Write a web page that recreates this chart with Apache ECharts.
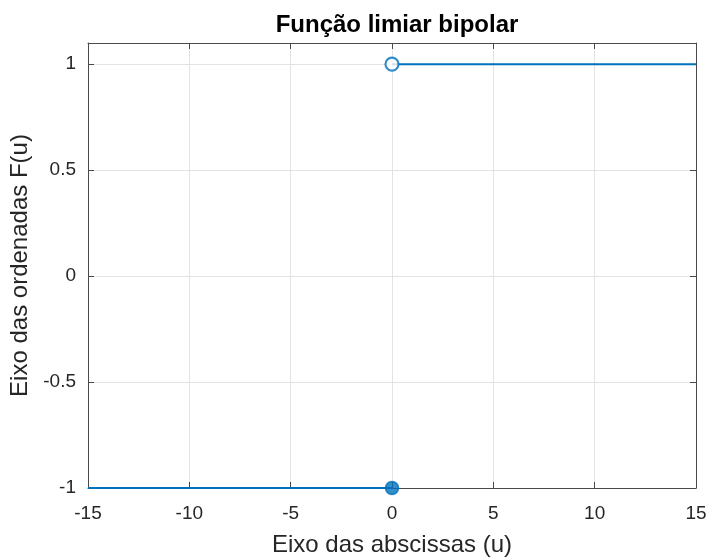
<!DOCTYPE html>
<html>
<head>
<meta charset="utf-8">
<script src="https://cdn.jsdelivr.net/npm/echarts@6/dist/echarts.min.js"></script>
<style>
  html, body { margin: 0; padding: 0; background: #fff; }
  #chart { width: 709px; height: 558px; }
</style>
</head>
<body>
<div id="chart"></div>
<script>
// Bipolar threshold (sign) function: F(u) = -1 for u <= 0, +1 for u > 0
const leftSegX = [-15, 0];
const leftSegY = [-1, -1];
const rightSegX = [0, 15];
const rightSegY = [1, 1];
const closedPoint = [0, -1];   // value taken at u = 0
const openPoint = [0, 1];      // limit from the right, not attained

const xTicks = { min: -15, max: 15, step: 5 };
const yTicks = { min: -1, max: 1.1, step: 0.5 };

const titleText = 'Função limiar bipolar';
const xLabel = 'Eixo das abscissas (u)';
const yLabel = 'Eixo das ordenadas F(u)';

const blue = '#0072BD';
const axisGray = '#4a4a4a';
const textGray = '#262626';
const font = 'Liberation Sans, Arial, Helvetica, sans-serif';

function zip(xs, ys) { return xs.map((x, i) => [x, ys[i]]); }

function fmtY(v) {
  const r = Math.round(v / yTicks.step) * yTicks.step;
  if (Math.abs(r - v) > 1e-9) return '';
  return String(Math.round(v * 10) / 10);
}

const axisCommon = {
  axisLine: { show: true, onZero: false, lineStyle: { color: axisGray, width: 1 } },
  axisTick: { show: true, inside: true, length: 6, lineStyle: { color: axisGray } },
};

const chart = echarts.init(document.getElementById('chart'), null, { renderer: 'canvas' });
chart.setOption({
  animation: false,
  backgroundColor: '#fff',
  title: {
    text: titleText,
    left: 392, top: 8, textAlign: 'center',
    textStyle: { fontFamily: font, fontSize: 24, fontWeight: 'bold', color: '#000' }
  },
  grid: {
    left: 88, right: 13, top: 43, bottom: 70, show: false,
    containLabel: false, outerBoundsMode: 'none'
  },
  xAxis: [{
    type: 'value', min: xTicks.min, max: xTicks.max, interval: xTicks.step,
    position: 'bottom',
    name: xLabel, nameLocation: 'middle', nameGap: 45,
    nameTextStyle: { fontFamily: font, fontSize: 24, color: textGray },
    ...axisCommon,
    axisLabel: { fontFamily: font, fontSize: 19, color: textGray, margin: 16 },
    splitLine: { show: true, lineStyle: { color: '#e3e3e3', width: 1 } }
  }, {
    type: 'value', min: xTicks.min, max: xTicks.max, interval: xTicks.step,
    position: 'top',
    ...axisCommon,
    axisLabel: { show: false },
    splitLine: { show: false }
  }],
  yAxis: [{
    type: 'value', min: yTicks.min, max: yTicks.max, interval: yTicks.step,
    position: 'left',
    name: yLabel, nameLocation: 'middle', nameGap: 46,
    nameTextStyle: { fontFamily: font, fontSize: 24, color: textGray },
    ...axisCommon,
    axisLabel: { fontFamily: font, fontSize: 19, color: textGray, margin: 12, formatter: fmtY },
    splitLine: { show: true, lineStyle: { color: '#e3e3e3', width: 1 } }
  }, {
    type: 'value', min: yTicks.min, max: yTicks.max, interval: yTicks.step,
    position: 'right',
    ...axisCommon,
    axisLabel: { show: false },
    splitLine: { show: false }
  }],
  series: [
    {
      type: 'line', data: zip(leftSegX, leftSegY), showSymbol: false,
      lineStyle: { color: blue, width: 2 }, z: 5
    },
    {
      type: 'line', data: zip(rightSegX, rightSegY), showSymbol: false,
      lineStyle: { color: blue, width: 2 }, z: 5
    },
    {
      type: 'scatter', data: [closedPoint], symbol: 'circle', symbolSize: 13,
      itemStyle: { color: blue, borderColor: blue, borderWidth: 1.5 }, z: 6
    },
    {
      type: 'scatter', data: [openPoint], symbol: 'circle', symbolSize: 13,
      itemStyle: { color: '#fff', borderColor: blue, borderWidth: 2.2 }, z: 6
    }
  ]
});
</script>
</body>
</html>
